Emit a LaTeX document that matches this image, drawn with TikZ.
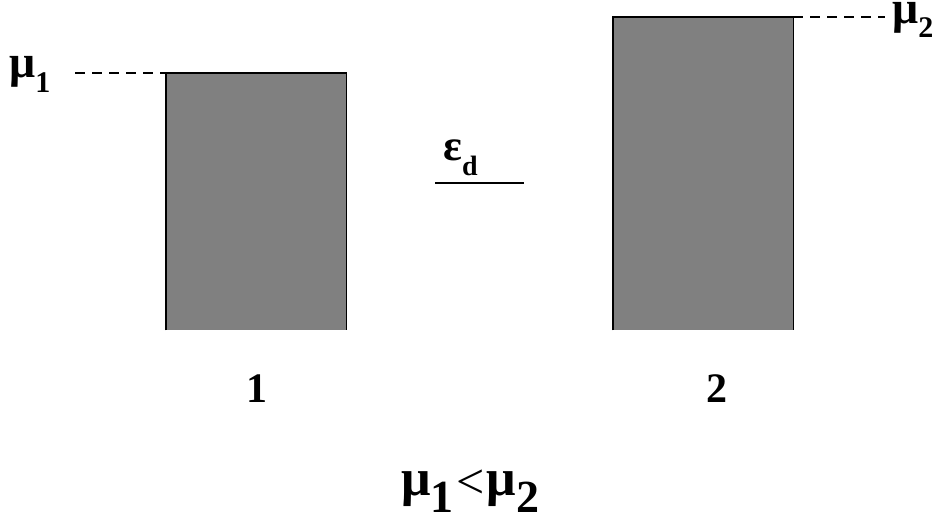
\documentclass[tikz,border=0pt]{standalone}
\usepackage{fontspec}
\setmainfont{Liberation Serif}
\usetikzlibrary{positioning}
\newcommand{\fsz}[1]{\fontsize{#1}{#1}\selectfont}
\newcommand{\lsub}[3]{\raisebox{-#2}{\fsz{#1}#3}}
\tikzset{
  bar/.style={fill=gray,minimum width=180pt,inner sep=0pt,anchor=north west},
  wall/.style={line width=1.6pt},
  lvl/.style={line width=1.2pt,dash pattern=on 10pt off 7pt},
  lab/.style={font=\bfseries\fsz{46},inner sep=0pt,anchor=base west},
}
\begin{document}
\begin{tikzpicture}[x=1pt,y=-1pt]
\useasboundingbox (0,0) rectangle (934,523);
% reservoirs
\node[bar,minimum height=257pt] (lead1) at (166,73) {};
\node[bar,minimum height=313pt] (lead2) at (613,17) {};
\draw[wall] (lead1.south west) -- (lead1.north west) -- (lead1.north east) -- (lead1.south east);
\draw[wall] (lead2.south west) -- (lead2.north west) -- (lead2.north east) -- (lead2.south east);
% chemical potentials
\node[lab] (mu1) at (9,77) {μ\lsub{30}{15pt}{1}};
\node[lab] (mu2) at (892,23) {μ\lsub{30}{14pt}{2}};
\coordinate (d1) at (75,73);
\coordinate (d2) at (885,17);
\draw[lvl] (d1) -- (lead1.north west);
\draw[lvl] (lead2.north east) -- (d2);
% dot level
\coordinate (e1) at (435,183);
\coordinate (e2) at (524,183);
\draw[wall] (e1) -- (e2);
\node[lab] (eps) at (443,160) {\fsz{44}ε\lsub{28}{15pt}{d}};
% lead names
\node[lab,anchor=base] (n1) at (257,402) {\fsz{42}1};
\node[lab,anchor=base] (n2) at (717,402) {\fsz{42}2};
\node[lab] (rel) at (401,495) {\fsz{52}μ\lsub{46}{17pt}{1}\hspace{3pt}\raisebox{-3pt}{\mdseries\fsz{50}<}\hspace{2pt}μ\lsub{46}{17pt}{2}};
\end{tikzpicture}
\end{document}
